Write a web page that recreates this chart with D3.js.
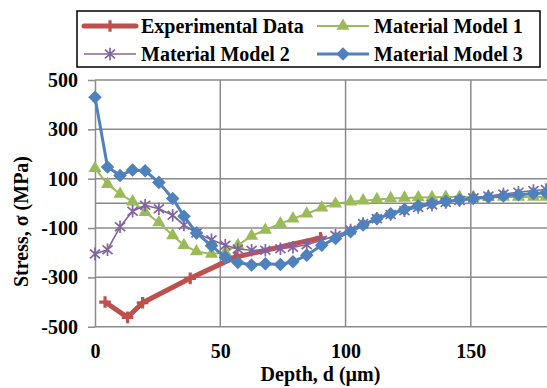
<!DOCTYPE html>
<html>
<head>
<meta charset="utf-8">
<script src="https://cdn.jsdelivr.net/npm/d3@7"></script>
<style>
body { margin: 0; background: #fff; }
text { font-family: "Liberation Serif", "Times New Roman", serif; font-weight: bold; font-size: 20px; fill: #000; }
</style>
</head>
<body>
<svg id="chart" width="547" height="388"></svg>
<script>
// depth of the simulated nodes (µm), shared by the three models
const depth = [0, 5, 10, 15, 20, 25.5, 31, 35.5, 40.5, 46.5, 52, 57, 62.5, 68, 74, 79, 84.5, 90.5, 96, 102,
	107, 112.5, 118, 123.5, 129, 134.5, 140, 145.5, 151, 157, 163, 169, 175, 180];
const model1 = [142, 78, 38, 7, -36, -78, -130, -170, -195, -205, -198, -170, -132, -108, -82, -62, -42, -18, -2, 7,
	11, 16, 20, 22, 24, 25, 26, 26, 26, 26, 26, 26, 26, 26];
const model2 = [-205, -188, -95, -32, -8, -22, -48, -88, -120, -148, -170, -185, -190, -190, -184, -178, -168, -150, -130, -108,
	-82, -62, -45, -30, -17, -6, 4, 12, 22, 30, 38, 45, 52, 56];
const model3 = [430, 147, 113, 135, 132, 85, 20, -52, -120, -172, -218, -240, -250, -245, -248, -237, -210, -170, -142, -115,
	-88, -62, -42, -25, -10, 0, 8, 14, 20, 25, 30, 35, 40, 43];
const expDepth = [4, 13, 19, 38, 56, 90];
const expStress = [-400, -462, -403, -304, -218, -140];

const xTicks = [0, 50, 100, 150];
const yTicks = [-500, -300, -100, 100, 300, 500];

const svg = d3.select("#chart");
const x = d3.scaleLinear().domain([0, 180]).range([95, 546]);
const y = d3.scaleLinear().domain([-500, 500]).range([326.7, 80]);
const gridColor = "#8a8a8a";

// gridlines
svg.append("g").selectAll("line").data(yTicks).join("line")
	.attr("x1", x(0)).attr("x2", 547)
	.attr("y1", d => y(d)).attr("y2", d => y(d))
	.attr("stroke", gridColor).attr("stroke-width", 1.5);
svg.append("g").selectAll("line").data(xTicks.filter(d => d > 0)).join("line")
	.attr("x1", d => x(d)).attr("x2", d => x(d))
	.attr("y1", y(500)).attr("y2", y(-500))
	.attr("stroke", gridColor).attr("stroke-width", 1.5);

// horizontal axis crosses at 0
svg.append("line")
	.attr("x1", x(0)).attr("x2", 547)
	.attr("y1", y(0)).attr("y2", y(0))
	.attr("stroke", gridColor).attr("stroke-width", 1.5);

// y axis
const yAxis = svg.append("g")
	.attr("transform", `translate(${x(0)},0)`)
	.call(d3.axisLeft(y).tickValues(yTicks).tickFormat(d => String(d))
		.tickSize(7).tickPadding(10).tickSizeOuter(0));
yAxis.select(".domain").attr("stroke", gridColor).attr("stroke-width", 1.5);
yAxis.selectAll(".tick line").attr("stroke", gridColor).attr("stroke-width", 1.5);
yAxis.attr("font-family", null).attr("font-size", null);

// x axis labels at the bottom
const xAxis = svg.append("g")
	.attr("transform", `translate(0,${y(-500)})`)
	.call(d3.axisBottom(x).tickValues(xTicks).tickFormat(d => String(d)).tickSize(0).tickPadding(17));
xAxis.select(".domain").remove();
xAxis.attr("font-family", null).attr("font-size", null);

// axis titles
svg.append("text")
	.attr("x", (x(0) + 546) / 2).attr("y", 381)
	.attr("text-anchor", "middle")
	.text("Depth, d (\u00b5m)");
svg.append("text")
	.attr("transform", "translate(28,221.5) rotate(-90)")
	.attr("text-anchor", "middle")
	.text("Stress, \u03c3 (MPa)");

// markers
const diamond = d3.symbol().type(d3.symbolSquare).size(92)();
const triangle = d3.symbol().type(d3.symbolTriangle).size(74)();
const star = (r => `M0,${-r}L0,${r}M${-r * 0.8},${-r * 0.7}L${r * 0.8},${r * 0.7}M${-r * 0.8},${r * 0.7}L${r * 0.8},${-r * 0.7}`)(6.3);
const plus = (r => `M${-r},0L${r},0M0,${-r}L0,${r}`)(5.8);

const series = [
	{ name: "Experimental Data", xs: expDepth, ys: expStress, color: "#C0504D", width: 5, marker: "plus" },
	{ name: "Material Model 1", xs: depth, ys: model1, color: "#9BBB59", width: 2, marker: "triangle" },
	{ name: "Material Model 2", xs: depth, ys: model2, color: "#8064A2", width: 1.6, marker: "star" },
	{ name: "Material Model 3", xs: depth, ys: model3, color: "#4F81BD", width: 3, marker: "diamond" }
];

function drawMarker(g, s) {
	if (s.marker === "diamond") {
		g.append("path").attr("d", diamond).attr("transform", "rotate(45)").attr("fill", s.color);
	} else if (s.marker === "triangle") {
		g.append("path").attr("d", triangle).attr("fill", s.color);
	} else if (s.marker === "star") {
		g.append("path").attr("d", star).attr("fill", "none").attr("stroke", s.color).attr("stroke-width", 1.7);
	} else {
		g.append("path").attr("d", plus).attr("fill", "none").attr("stroke", s.color).attr("stroke-width", 3.2);
	}
}

const line = d3.line().x(d => x(d[0])).y(d => y(d[1]));

series.forEach(s => {
	const pts = s.xs.map((d, i) => [d, s.ys[i]]);
	const g = svg.append("g");
	g.append("path").datum(pts)
		.attr("d", line)
		.attr("fill", "none")
		.attr("stroke", s.color)
		.attr("stroke-width", s.width)
		.attr("stroke-linejoin", "round");
	pts.forEach(p => {
		const m = g.append("g").attr("transform", `translate(${x(p[0])},${y(p[1])})`);
		drawMarker(m, s);
	});
});

// legend
const legend = svg.append("g");
legend.append("rect")
	.attr("x", 77).attr("y", 11).attr("width", 463).attr("height", 56)
	.attr("fill", "#fff").attr("stroke", "#000").attr("stroke-width", 1.5);
const legendPos = [[84, 26], [317, 26], [84, 54], [317, 54]];
series.forEach((s, k) => {
	const [lx, ly] = legendPos[k];
	legend.append("line")
		.attr("x1", lx).attr("x2", lx + 52)
		.attr("y1", ly).attr("y2", ly)
		.attr("stroke", s.color).attr("stroke-width", s.width)
		.attr("stroke-linecap", k === 0 ? "round" : "butt");
	const m = legend.append("g").attr("transform", `translate(${lx + 26},${ly})`);
	drawMarker(m, s);
	legend.append("text")
		.attr("x", lx + 57).attr("y", ly).attr("dy", "0.35em")
		.text(s.name);
});
</script>
</body>
</html>
